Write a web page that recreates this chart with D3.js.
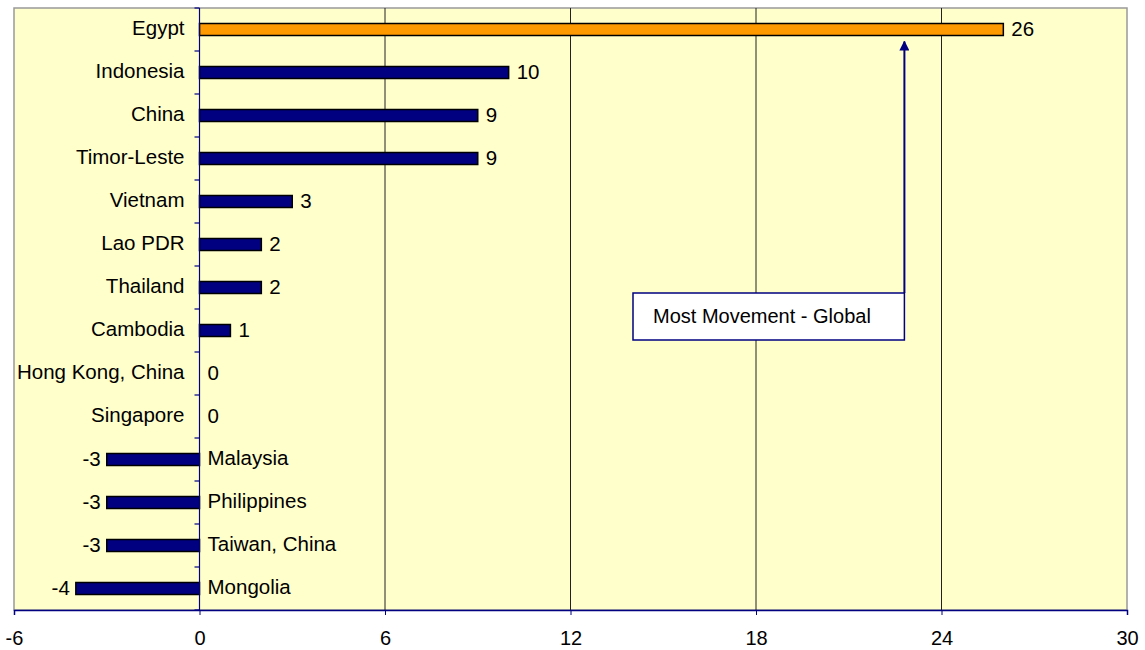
<!DOCTYPE html>
<html lang="en">
    <head>
        <meta charset="utf-8">
        <title>Most Movement</title>
        <script src="https://d3js.org/d3.v7.min.js"></script>
        <style>
            body { margin: 0; background: white; }
            text { font-family: "Liberation Sans", Arial, sans-serif; fill: black; }
        </style>
    </head>
    <body>
        <script type="text/javascript">
        'use strict';

        //data
        var countries = ["Egypt", "Indonesia", "China", "Timor-Leste", "Vietnam", "Lao PDR",
            "Thailand", "Cambodia", "Hong Kong, China", "Singapore", "Malaysia",
            "Philippines", "Taiwan, China", "Mongolia"];
        var values = [26, 10, 9, 9, 3, 2, 2, 1, 0, 0, -3, -3, -3, -4];
        var xTicks = [-6, 0, 6, 12, 18, 24, 30];
        var highlight = "Egypt";
        var noteText = "Most Movement - Global";

        var w = 1145;
        var h = 650;
        var pLeft = 14, pRight = 1127, pTop = 8, pBottom = 610;

        var xScale = d3.scaleLinear()
            .domain([-6, 30])
            .range([pLeft, pRight]);
        var yScale = d3.scaleBand()
            .domain(countries)
            .range([pTop, pBottom]);

        var svg = d3.select("body")
                    .append("svg")
                    .attr("width", w)
                    .attr("height", h);

        //plot area
        svg.append("rect")
            .attr("x", pLeft)
            .attr("y", pTop)
            .attr("width", pRight - pLeft)
            .attr("height", pBottom - pTop)
            .attr("fill", "#ffffcc")
            .attr("stroke", "#999")
            .attr("stroke-width", 1.5);

        //gridlines
        svg.selectAll("line.grid")
            .data(xTicks.filter(function(d){ return d > 0 && d < 30; }))
            .enter()
            .append("line")
            .attr("class", "grid")
            .attr("x1", function(d){ return xScale(d); })
            .attr("x2", function(d){ return xScale(d); })
            .attr("y1", pTop)
            .attr("y2", pBottom)
            .attr("stroke", "#222")
            .attr("stroke-width", 1);

        //bottom axis
        var xAxis = d3.axisBottom(xScale)
            .tickValues(xTicks)
            .tickFormat(function(d){ return String(d); })
            .tickSize(5)
            .tickPadding(16);
        var gx = svg.append("g")
            .attr("transform", "translate(0," + pBottom + ")")
            .call(xAxis);
        gx.select(".domain").attr("stroke", "#000080").attr("stroke-width", 1.5);
        gx.selectAll(".tick line").attr("stroke", "#000080");
        gx.selectAll(".tick text")
            .attr("font-size", "20px")
            .attr("font-family", "Liberation Sans, Arial, sans-serif")
            .attr("fill", "black");

        //bars
        var barH = 12;
        svg.selectAll("rect.bar")
            .data(values)
            .enter()
            .append("rect")
            .attr("class", "bar")
            .attr("x", function(d){ return xScale(Math.min(0, d)); })
            .attr("y", function(d, i){ return yScale(countries[i]) + yScale.bandwidth() / 2 - barH / 2; })
            .attr("width", function(d){ return Math.abs(xScale(d) - xScale(0)); })
            .attr("height", barH)
            .attr("fill", function(d, i){ return countries[i] === highlight ? "#ff9900" : "#000080"; })
            .attr("stroke", "black")
            .attr("stroke-width", 1.5);

        //zero axis with category ticks
        svg.append("line")
            .attr("x1", xScale(0))
            .attr("x2", xScale(0))
            .attr("y1", pTop)
            .attr("y2", pBottom)
            .attr("stroke", "#000080")
            .attr("stroke-width", 1.2);
        svg.selectAll("line.ctick")
            .data(d3.range(countries.length + 1))
            .enter()
            .append("line")
            .attr("class", "ctick")
            .attr("x1", xScale(0) - 5)
            .attr("x2", xScale(0))
            .attr("y1", function(i){ return pTop + i * yScale.step(); })
            .attr("y2", function(i){ return pTop + i * yScale.step(); })
            .attr("stroke", "#000080")
            .attr("stroke-width", 1.2);

        //category labels
        svg.selectAll("text.cat")
            .data(countries)
            .enter()
            .append("text")
            .attr("class", "cat")
            .text(function(d){ return d; })
            .attr("x", function(d, i){ return values[i] < 0 ? xScale(0) + 8 : xScale(0) - 15; })
            .attr("y", function(d){ return yScale(d) + yScale.bandwidth() / 2 - 2; })
            .attr("dy", "0.35em")
            .attr("text-anchor", function(d, i){ return values[i] < 0 ? "start" : "end"; })
            .attr("font-size", "20.5px");

        //value labels
        svg.selectAll("text.val")
            .data(values)
            .enter()
            .append("text")
            .attr("class", "val")
            .text(function(d){ return d; })
            .attr("x", function(d){ return d < 0 ? xScale(d) - 6 : xScale(d) + 8; })
            .attr("y", function(d, i){ return yScale(countries[i]) + yScale.bandwidth() / 2 - 1; })
            .attr("dy", "0.35em")
            .attr("text-anchor", function(d){ return d < 0 ? "end" : "start"; })
            .attr("font-size", "20.5px");

        //annotation
        var noteX = xScale(22.8);
        var eg = yScale(highlight) + yScale.bandwidth() / 2;
        svg.append("defs").append("marker")
            .attr("id", "arrow")
            .attr("viewBox", "0 0 10 10")
            .attr("refX", 9)
            .attr("refY", 5)
            .attr("markerWidth", 5)
            .attr("markerHeight", 5)
            .attr("orient", "auto")
            .append("path")
            .attr("d", "M0,0L10,5L0,10Z")
            .attr("fill", "#000080");
        svg.append("line")
            .attr("x1", noteX)
            .attr("x2", noteX)
            .attr("y1", 293)
            .attr("y2", eg + 12)
            .attr("stroke", "#000080")
            .attr("stroke-width", 2)
            .attr("marker-end", "url(#arrow)");
        svg.append("rect")
            .attr("x", 633)
            .attr("y", 293)
            .attr("width", noteX - 633)
            .attr("height", 47)
            .attr("fill", "white")
            .attr("stroke", "#000080")
            .attr("stroke-width", 1.5);
        svg.append("text")
            .text(noteText)
            .attr("x", 653)
            .attr("y", 316)
            .attr("dy", "0.35em")
            .attr("font-size", "20px");
</script>
    </body>
</html>
